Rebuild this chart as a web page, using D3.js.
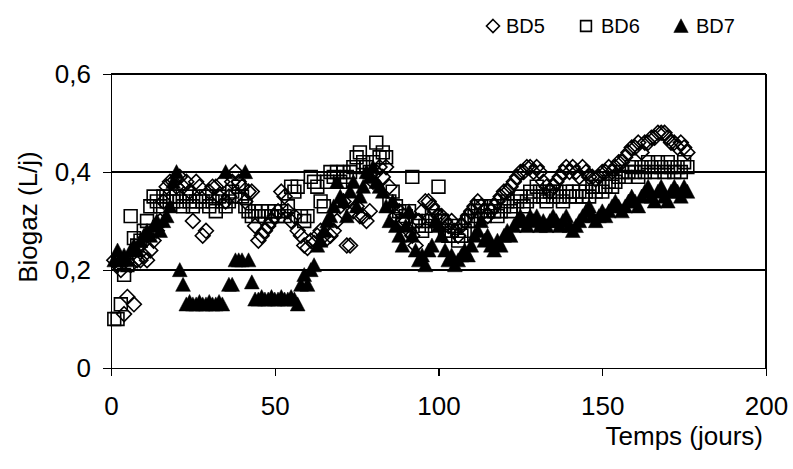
<!DOCTYPE html>
<html>
<head>
<meta charset="utf-8">
<script src="https://cdn.jsdelivr.net/npm/d3@7"></script>
<style>
  html, body { margin: 0; padding: 0; background: #fff; }
  svg { display: block; font-family: "Liberation Sans", Arial, sans-serif; }
</style>
</head>
<body>
<svg id="chart" width="793" height="469"></svg>
<script>
// Daily biogas production (L/j) for the three digesters, as [day, value]
const bd5 = [
  [1,0.22],[2,0.21],[3,0.20],[4,0.11],[5,0.145],[6,0.21],[7,0.13],[8,0.22],[9,0.22],[10,0.23],
  [11,0.22],[12,0.24],[13,0.26],[14,0.28],[15,0.30],[16,0.34],[17,0.37],[18,0.38],[19,0.38],[20,0.37],
  [21,0.39],[22,0.37],[23,0.38],[24,0.36],[25,0.30],[26,0.38],[27,0.37],[28,0.27],[29,0.28],[30,0.36],
  [31,0.37],[32,0.37],[33,0.35],[34,0.38],[35,0.34],[36,0.35],[37,0.38],[38,0.40],[39,0.38],[40,0.37],
  [41,0.34],[42,0.36],[43,0.36],[44,0.29],[45,0.26],[46,0.27],[47,0.28],[48,0.29],[49,0.30],[50,0.31],
  [51,0.32],[52,0.36],[53,0.35],[54,0.32],[55,0.30],[56,0.31],[57,0.28],[58,0.27],[59,0.25],[60,0.245],
  [61,0.26],[62,0.255],[63,0.27],[64,0.28],[65,0.27],[66,0.265],[67,0.27],[68,0.28],[69,0.30],[70,0.33],
  [71,0.34],[72,0.25],[73,0.25],[74,0.32],[75,0.33],[76,0.31],[77,0.31],[78,0.30],[79,0.32],[80,0.38],
  [81,0.40],[82,0.41],[83,0.39],[84,0.41],[85,0.37],[86,0.33],[87,0.31],[88,0.32],[89,0.30],[90,0.30],
  [91,0.28],[92,0.27],[93,0.25],[94,0.30],[95,0.32],[96,0.34],[97,0.34],[98,0.33],[99,0.32],[100,0.31],
  [101,0.31],[102,0.30],[103,0.29],[104,0.30],[105,0.28],[106,0.27],[107,0.29],[108,0.30],[109,0.31],[110,0.32],
  [111,0.33],[112,0.34],[113,0.33],[114,0.32],[115,0.31],[116,0.32],[117,0.33],[118,0.34],[119,0.35],[120,0.36],
  [121,0.36],[122,0.37],[123,0.38],[124,0.39],[125,0.40],[126,0.40],[127,0.41],[128,0.41],[129,0.40],[130,0.41],
  [131,0.40],[132,0.38],[133,0.37],[134,0.36],[135,0.37],[136,0.38],[137,0.39],[138,0.40],[139,0.41],[140,0.40],
  [141,0.41],[142,0.40],[143,0.39],[144,0.41],[145,0.40],[146,0.39],[147,0.39],[148,0.385],[149,0.39],[150,0.40],
  [151,0.40],[152,0.41],[153,0.40],[154,0.41],[155,0.42],[156,0.42],[157,0.43],[158,0.44],[159,0.45],[160,0.45],
  [161,0.46],[162,0.44],[163,0.46],[164,0.46],[165,0.47],[166,0.47],[167,0.48],[168,0.48],[169,0.48],[170,0.47],
  [171,0.46],[172,0.46],[173,0.45],[174,0.46],[175,0.45],[176,0.44]
];
const bd6 = [
  [1,0.10],[2,0.10],[3,0.13],[4,0.19],[5,0.21],[6,0.31],[7,0.265],[8,0.25],[9,0.26],[10,0.28],
  [11,0.30],[12,0.33],[13,0.35],[14,0.34],[15,0.33],[16,0.35],[17,0.34],[18,0.35],[19,0.34],[20,0.35],
  [21,0.34],[22,0.33],[23,0.35],[24,0.34],[25,0.33],[26,0.34],[27,0.35],[28,0.34],[29,0.35],[30,0.33],
  [31,0.34],[32,0.32],[33,0.35],[34,0.34],[35,0.33],[36,0.34],[37,0.36],[38,0.35],[39,0.37],[40,0.35],
  [41,0.33],[42,0.32],[43,0.31],[44,0.32],[45,0.31],[46,0.32],[47,0.31],[48,0.32],[49,0.31],[50,0.32],
  [51,0.31],[52,0.32],[53,0.31],[54,0.33],[55,0.37],[56,0.36],[57,0.37],[58,0.31],[59,0.30],[60,0.31],
  [61,0.39],[62,0.38],[63,0.37],[64,0.34],[65,0.33],[66,0.38],[67,0.40],[68,0.39],[69,0.40],[70,0.38],
  [71,0.40],[72,0.39],[73,0.40],[74,0.41],[75,0.43],[76,0.44],[77,0.42],[78,0.41],[79,0.40],[80,0.42],
  [81,0.46],[82,0.43],[83,0.44],[84,0.43],[85,0.34],[86,0.36],[87,0.33],[88,0.32],[89,0.30],[90,0.31],
  [91,0.32],[92,0.39],[93,0.30],[94,0.29],[95,0.28],[96,0.29],[97,0.30],[98,0.31],[99,0.30],[100,0.37],
  [101,0.30],[102,0.28],[103,0.27],[104,0.28],[105,0.29],[106,0.26],[107,0.27],[108,0.28],[109,0.30],[110,0.30],
  [111,0.31],[112,0.32],[113,0.33],[114,0.31],[115,0.32],[116,0.33],[117,0.32],[118,0.31],[119,0.32],[120,0.33],
  [121,0.34],[122,0.32],[123,0.33],[124,0.34],[125,0.35],[126,0.33],[127,0.34],[128,0.36],[129,0.35],[130,0.37],
  [131,0.36],[132,0.35],[133,0.34],[134,0.36],[135,0.35],[136,0.36],[137,0.35],[138,0.34],[139,0.36],[140,0.35],
  [141,0.36],[142,0.35],[143,0.36],[144,0.35],[145,0.36],[146,0.35],[147,0.37],[148,0.36],[149,0.37],[150,0.36],
  [151,0.37],[152,0.38],[153,0.37],[154,0.38],[155,0.39],[156,0.40],[157,0.39],[158,0.40],[159,0.41],[160,0.40],
  [161,0.39],[162,0.41],[163,0.40],[164,0.42],[165,0.41],[166,0.40],[167,0.42],[168,0.41],[169,0.40],[170,0.42],
  [171,0.41],[172,0.40],[173,0.41],[174,0.40],[175,0.42],[176,0.41]
];
const bd7 = [
  [1,0.22],[2,0.24],[3,0.22],[4,0.23],[5,0.22],[6,0.24],[7,0.25],[8,0.24],[9,0.26],[10,0.27],
  [11,0.28],[12,0.27],[13,0.29],[14,0.30],[15,0.28],[16,0.30],[17,0.31],[18,0.33],[19,0.38],[20,0.40],
  [21,0.20],[22,0.17],[23,0.13],[24,0.135],[25,0.13],[26,0.13],[27,0.135],[28,0.13],[29,0.13],[30,0.135],
  [31,0.13],[32,0.13],[33,0.135],[34,0.13],[35,0.40],[36,0.17],[37,0.17],[38,0.22],[39,0.22],[40,0.22],
  [41,0.40],[42,0.22],[43,0.175],[44,0.14],[45,0.14],[46,0.145],[47,0.14],[48,0.14],[49,0.145],[50,0.14],
  [51,0.14],[52,0.145],[53,0.14],[54,0.14],[55,0.145],[56,0.14],[57,0.13],[58,0.17],[59,0.19],[60,0.17],
  [61,0.20],[62,0.21],[63,0.25],[64,0.26],[65,0.28],[66,0.30],[67,0.31],[68,0.33],[69,0.38],[70,0.35],
  [71,0.34],[72,0.31],[73,0.36],[74,0.38],[75,0.33],[76,0.35],[77,0.37],[78,0.40],[79,0.39],[80,0.41],
  [81,0.38],[82,0.37],[83,0.36],[84,0.33],[85,0.30],[86,0.34],[87,0.29],[88,0.27],[89,0.25],[90,0.29],
  [91,0.32],[92,0.27],[93,0.24],[94,0.22],[95,0.23],[96,0.21],[97,0.24],[98,0.25],[99,0.30],[100,0.29],
  [101,0.27],[102,0.24],[103,0.22],[104,0.23],[105,0.21],[106,0.22],[107,0.23],[108,0.24],[109,0.23],[110,0.25],
  [111,0.27],[112,0.28],[113,0.30],[114,0.26],[115,0.27],[116,0.25],[117,0.24],[118,0.26],[119,0.25],[120,0.27],
  [121,0.28],[122,0.27],[123,0.29],[124,0.30],[125,0.31],[126,0.30],[127,0.29],[128,0.31],[129,0.30],[130,0.31],
  [131,0.29],[132,0.30],[133,0.29],[134,0.30],[135,0.31],[136,0.30],[137,0.29],[138,0.30],[139,0.31],[140,0.29],
  [141,0.28],[142,0.29],[143,0.30],[144,0.31],[145,0.32],[146,0.33],[147,0.31],[148,0.30],[149,0.31],[150,0.32],
  [151,0.31],[152,0.32],[153,0.33],[154,0.34],[155,0.33],[156,0.32],[157,0.33],[158,0.34],[159,0.35],[160,0.34],
  [161,0.33],[162,0.35],[163,0.36],[164,0.37],[165,0.35],[166,0.34],[167,0.36],[168,0.37],[169,0.35],[170,0.34],
  [171,0.36],[172,0.37],[173,0.36],[174,0.35],[175,0.37],[176,0.36]
];
const seriesNames = ["BD5", "BD6", "BD7"];
const xTicks = [0, 50, 100, 150, 200];
const yTicks = [0, 0.2, 0.4, 0.6];
const xTitle = "Temps (jours)";
const yTitle = "Biogaz (L/j)";

const svg = d3.select("#chart");
const plot = { left: 111, right: 766, top: 74, bottom: 368 };
const axisFont = 26;

const x = d3.scaleLinear().domain([0, 200]).range([plot.left, plot.right]);
const y = d3.scaleLinear().domain([0, 0.6]).range([plot.bottom, plot.top]);
const fmt = d => d3.format(".1~f")(d).replace(".", ",");

// Marker shapes
const shapes = {
  diamond: s => `M0,${-s}L${s},0L0,${s}L${-s},0Z`,
  square: s => `M${-s},${-s}H${s}V${s}H${-s}Z`,
  triangle: s => `M0,${-s}L${s},${s * 0.9}H${-s}Z`
};
const styles = [
  { shape: "diamond", size: 7.4, legendSize: 6.5, fill: "none", stroke: "#000", sw: 1.6 },
  { shape: "square", size: 6.4, legendSize: 5.4, fill: "none", stroke: "#000", sw: 1.6 },
  { shape: "triangle", size: 7.4, legendSize: 7.2, fill: "#000", stroke: "#000", sw: 0.5 }
];

// Horizontal gridlines
svg.append("g")
  .selectAll("line")
  .data(yTicks.filter(d => d > 0))
  .join("line")
  .attr("x1", plot.left).attr("x2", plot.right)
  .attr("y1", d => y(d)).attr("y2", d => y(d))
  .attr("stroke", "#000").attr("stroke-width", 1.2)
  .attr("shape-rendering", "crispEdges");

// Right edge of the plot area
svg.append("line")
  .attr("x1", plot.right).attr("x2", plot.right)
  .attr("y1", plot.top).attr("y2", plot.bottom)
  .attr("stroke", "#000").attr("stroke-width", 1.2)
  .attr("shape-rendering", "crispEdges");

// Axes
const xAxis = svg.append("g")
  .attr("transform", `translate(0,${plot.bottom})`)
  .call(d3.axisBottom(x).tickValues(xTicks).tickSize(8).tickPadding(21).tickFormat(d3.format("d")));
const yAxis = svg.append("g")
  .attr("transform", `translate(${plot.left},0)`)
  .call(d3.axisLeft(y).tickValues(yTicks).tickSize(8).tickPadding(12).tickFormat(fmt));
[xAxis, yAxis].forEach(g => {
  g.select(".domain").attr("stroke", "#000").attr("stroke-width", 1.2);
  g.selectAll(".tick line").attr("stroke", "#000").attr("stroke-width", 1.2);
  g.selectAll("text").attr("fill", "#000").attr("font-size", axisFont)
    .attr("font-family", "'Liberation Sans', Arial, sans-serif");
});
svg.selectAll(".domain, .tick line").attr("shape-rendering", "crispEdges");

// Data points
[bd5, bd6, bd7].forEach((data, i) => {
  const st = styles[i];
  svg.append("g")
    .selectAll("path")
    .data(data)
    .join("path")
    .attr("transform", d => `translate(${x(d[0])},${y(d[1])})`)
    .attr("d", shapes[st.shape](st.size))
    .attr("fill", st.fill)
    .attr("stroke", st.stroke)
    .attr("stroke-width", st.sw)
    .attr("stroke-linejoin", "miter");
});

// Axis titles
svg.append("text")
  .attr("x", 763).attr("y", 445)
  .attr("text-anchor", "end")
  .attr("font-size", axisFont)
  .text(xTitle);
svg.append("text")
  .attr("transform", `translate(37,217) rotate(-90)`)
  .attr("text-anchor", "middle")
  .attr("font-size", axisFont)
  .text(yTitle);

// Legend
const legendX = [493, 586, 681];
const legendTextX = [506, 601, 696];
const legend = svg.append("g");
seriesNames.forEach((name, i) => {
  const st = styles[i];
  legend.append("path")
    .attr("transform", `translate(${legendX[i]},26)`)
    .attr("d", shapes[st.shape](st.legendSize))
    .attr("fill", st.fill)
    .attr("stroke", st.stroke)
    .attr("stroke-width", st.sw);
  legend.append("text")
    .attr("x", legendTextX[i]).attr("y", 33)
    .attr("font-size", 20)
    .text(name);
});
</script>
</body>
</html>
